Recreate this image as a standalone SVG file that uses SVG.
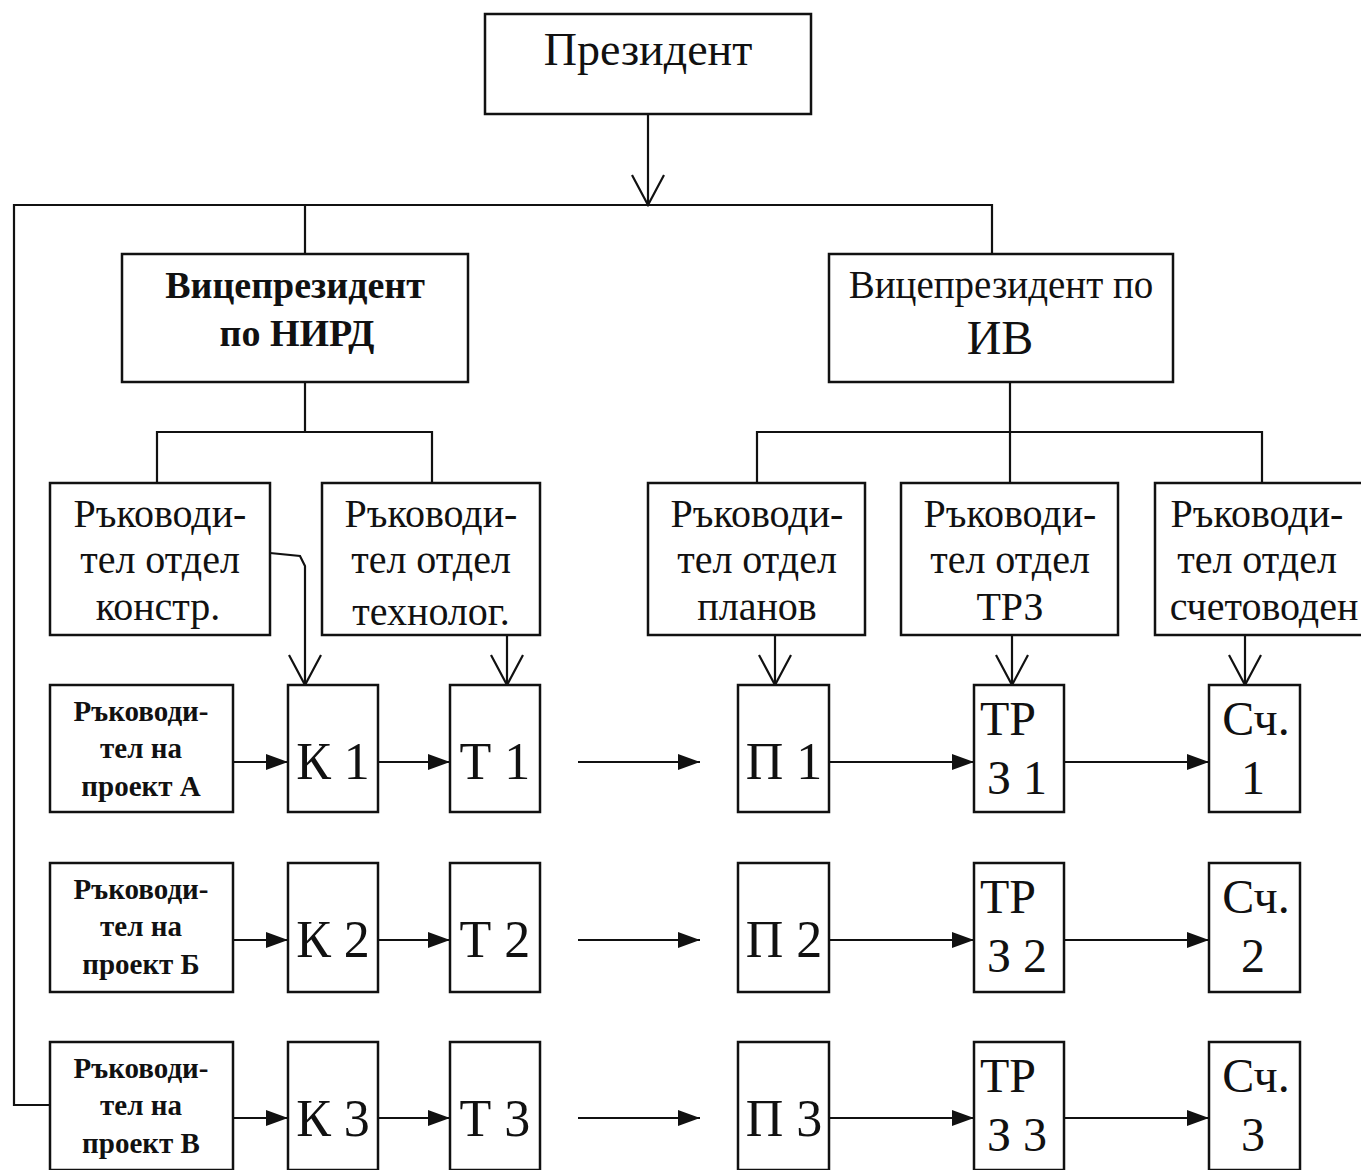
<svg xmlns="http://www.w3.org/2000/svg" width="1361" height="1170" viewBox="0 0 1361 1170">
<style>
.box{fill:#fff;stroke:#111;stroke-width:2.5}
.ln{fill:none;stroke:#111;stroke-width:2.2}
text{font-family:"Liberation Serif","Times New Roman",serif;fill:#111;text-anchor:middle}
.pres{font-size:46px}
.vp{font-size:38px;font-weight:bold}
.vp2{font-size:39px}
.iv{font-size:48px}
.mg{font-size:40px}
.pl{font-size:29px;font-weight:bold}
.big{font-size:52px}
.tr{font-size:48px}
</style>
<defs>
<marker id="vee" markerUnits="userSpaceOnUse" viewBox="-33 -19 35 38" markerWidth="35" markerHeight="38" refX="0" refY="0" orient="auto">
<path d="M-30,-16 L0,0 L-30,16" fill="none" stroke="#111" stroke-width="2.2"/>
</marker>
<marker id="tri" markerUnits="userSpaceOnUse" viewBox="-24 -9 25 18" markerWidth="25" markerHeight="18" refX="0" refY="0" orient="auto">
<path d="M-22,-8 L0,0 L-22,8 Z" fill="#111"/>
</marker>
</defs>
<rect width="1361" height="1170" fill="#fff"/>
<g id="connectors">
<line class="ln" x1="648" y1="114" x2="648" y2="205" marker-end="url(#vee)"/>
<polyline class="ln" points="305,254 305,205 992,205 992,254"/>
<polyline class="ln" points="305,205 14,205 14,1105 50,1105"/>
<line class="ln" x1="305" y1="382" x2="305" y2="432"/>
<polyline class="ln" points="157,483 157,432 432,432 432,483"/>
<line class="ln" x1="1010" y1="382" x2="1010" y2="483"/>
<polyline class="ln" points="757,483 757,432 1262,432 1262,483"/>
<polyline class="ln" points="270,553 300,556 305,566 305,685" marker-end="url(#vee)"/>
<line class="ln" x1="507" y1="635" x2="507" y2="685" marker-end="url(#vee)"/>
<line class="ln" x1="775" y1="635" x2="775" y2="685" marker-end="url(#vee)"/>
<line class="ln" x1="1012" y1="635" x2="1012" y2="685" marker-end="url(#vee)"/>
<line class="ln" x1="1245" y1="635" x2="1245" y2="685" marker-end="url(#vee)"/>
<line class="ln" x1="233" y1="762" x2="288" y2="762" marker-end="url(#tri)"/>
<line class="ln" x1="378" y1="762" x2="450" y2="762" marker-end="url(#tri)"/>
<line class="ln" x1="578" y1="762" x2="700" y2="762" marker-end="url(#tri)"/>
<line class="ln" x1="829" y1="762" x2="974" y2="762" marker-end="url(#tri)"/>
<line class="ln" x1="1064" y1="762" x2="1209" y2="762" marker-end="url(#tri)"/>
<line class="ln" x1="233" y1="940" x2="288" y2="940" marker-end="url(#tri)"/>
<line class="ln" x1="378" y1="940" x2="450" y2="940" marker-end="url(#tri)"/>
<line class="ln" x1="578" y1="940" x2="700" y2="940" marker-end="url(#tri)"/>
<line class="ln" x1="829" y1="940" x2="974" y2="940" marker-end="url(#tri)"/>
<line class="ln" x1="1064" y1="940" x2="1209" y2="940" marker-end="url(#tri)"/>
<line class="ln" x1="233" y1="1118" x2="288" y2="1118" marker-end="url(#tri)"/>
<line class="ln" x1="378" y1="1118" x2="450" y2="1118" marker-end="url(#tri)"/>
<line class="ln" x1="578" y1="1118" x2="700" y2="1118" marker-end="url(#tri)"/>
<line class="ln" x1="829" y1="1118" x2="974" y2="1118" marker-end="url(#tri)"/>
<line class="ln" x1="1064" y1="1118" x2="1209" y2="1118" marker-end="url(#tri)"/>
</g>
<g id="president"><rect class="box" x="485" y="14" width="326" height="100"/><text class="pres" x="648" y="65">Президент</text></g>
<g id="vp-nird"><rect class="box" x="122" y="254" width="346" height="128"/><text class="vp" x="295" y="298">Вицепрезидент</text><text class="vp" x="297" y="346">по НИРД</text></g>
<g id="vp-iv"><rect class="box" x="829" y="254" width="344" height="128"/><text class="vp2" x="1001" y="298">Вицепрезидент по</text><text class="iv" x="1000" y="354">ИВ</text></g>
<g id="mgr-konstr"><rect class="box" x="50" y="483" width="220" height="152"/><text class="mg" x="160" y="527">Ръководи-</text><text class="mg" x="160" y="573">тел отдел</text><text class="mg" x="158" y="620">констр.</text></g>
<g id="mgr-tehnolog"><rect class="box" x="322" y="483" width="218" height="152"/><text class="mg" x="431" y="527">Ръководи-</text><text class="mg" x="431" y="573">тел отдел</text><text class="mg" x="431" y="625">технолог.</text></g>
<g id="mgr-planov"><rect class="box" x="648" y="483" width="217" height="152"/><text class="mg" x="757" y="527">Ръководи-</text><text class="mg" x="757" y="573">тел отдел</text><text class="mg" x="757" y="620">планов</text></g>
<g id="mgr-trz"><rect class="box" x="901" y="483" width="217" height="152"/><text class="mg" x="1010" y="527">Ръководи-</text><text class="mg" x="1010" y="573">тел отдел</text><text class="mg" x="1010" y="620">ТРЗ</text></g>
<g id="mgr-schet"><rect class="box" x="1155" y="483" width="220" height="152"/><text class="mg" x="1257" y="527">Ръководи-</text><text class="mg" x="1257" y="573">тел отдел</text><text class="mg" x="1264" y="620">счетоводен</text></g>
<g id="pl-a"><rect class="box" x="50" y="685" width="183" height="127"/><text class="pl" x="141" y="721">Ръководи-</text><text class="pl" x="141" y="758">тел на</text><text class="pl" x="141" y="796">проект А</text></g>
<g id="k1"><rect class="box" x="288" y="685" width="90" height="127"/><text class="big" x="333" y="779">К 1</text></g>
<g id="t1"><rect class="box" x="450" y="685" width="90" height="127"/><text class="big" x="495" y="779">Т 1</text></g>
<g id="p1"><rect class="box" x="738" y="685" width="91" height="127"/><text class="big" x="784" y="779">П 1</text></g>
<g id="trz1"><rect class="box" x="974" y="685" width="90" height="127"/><text class="tr" x="1008" y="735">ТР</text><text class="tr" x="1017" y="794">З 1</text></g>
<g id="sch1"><rect class="box" x="1209" y="685" width="91" height="127"/><text class="tr" x="1256" y="735">Сч.</text><text class="tr" x="1253" y="794">1</text></g>
<g id="pl-b"><rect class="box" x="50" y="863" width="183" height="129"/><text class="pl" x="141" y="899">Ръководи-</text><text class="pl" x="141" y="936">тел на</text><text class="pl" x="141" y="974">проект Б</text></g>
<g id="k2"><rect class="box" x="288" y="863" width="90" height="129"/><text class="big" x="333" y="957">К 2</text></g>
<g id="t2"><rect class="box" x="450" y="863" width="90" height="129"/><text class="big" x="495" y="957">Т 2</text></g>
<g id="p2"><rect class="box" x="738" y="863" width="91" height="129"/><text class="big" x="784" y="957">П 2</text></g>
<g id="trz2"><rect class="box" x="974" y="863" width="90" height="129"/><text class="tr" x="1008" y="913">ТР</text><text class="tr" x="1017" y="972">З 2</text></g>
<g id="sch2"><rect class="box" x="1209" y="863" width="91" height="129"/><text class="tr" x="1256" y="913">Сч.</text><text class="tr" x="1253" y="972">2</text></g>
<g id="pl-v"><rect class="box" x="50" y="1042" width="183" height="128"/><text class="pl" x="141" y="1078">Ръководи-</text><text class="pl" x="141" y="1115">тел на</text><text class="pl" x="141" y="1153">проект В</text></g>
<g id="k3"><rect class="box" x="288" y="1042" width="90" height="128"/><text class="big" x="333" y="1136">К 3</text></g>
<g id="t3"><rect class="box" x="450" y="1042" width="90" height="128"/><text class="big" x="495" y="1136">Т 3</text></g>
<g id="p3"><rect class="box" x="738" y="1042" width="91" height="128"/><text class="big" x="784" y="1136">П 3</text></g>
<g id="trz3"><rect class="box" x="974" y="1042" width="90" height="128"/><text class="tr" x="1008" y="1092">ТР</text><text class="tr" x="1017" y="1151">З 3</text></g>
<g id="sch3"><rect class="box" x="1209" y="1042" width="91" height="128"/><text class="tr" x="1256" y="1092">Сч.</text><text class="tr" x="1253" y="1151">3</text></g>
</svg>
